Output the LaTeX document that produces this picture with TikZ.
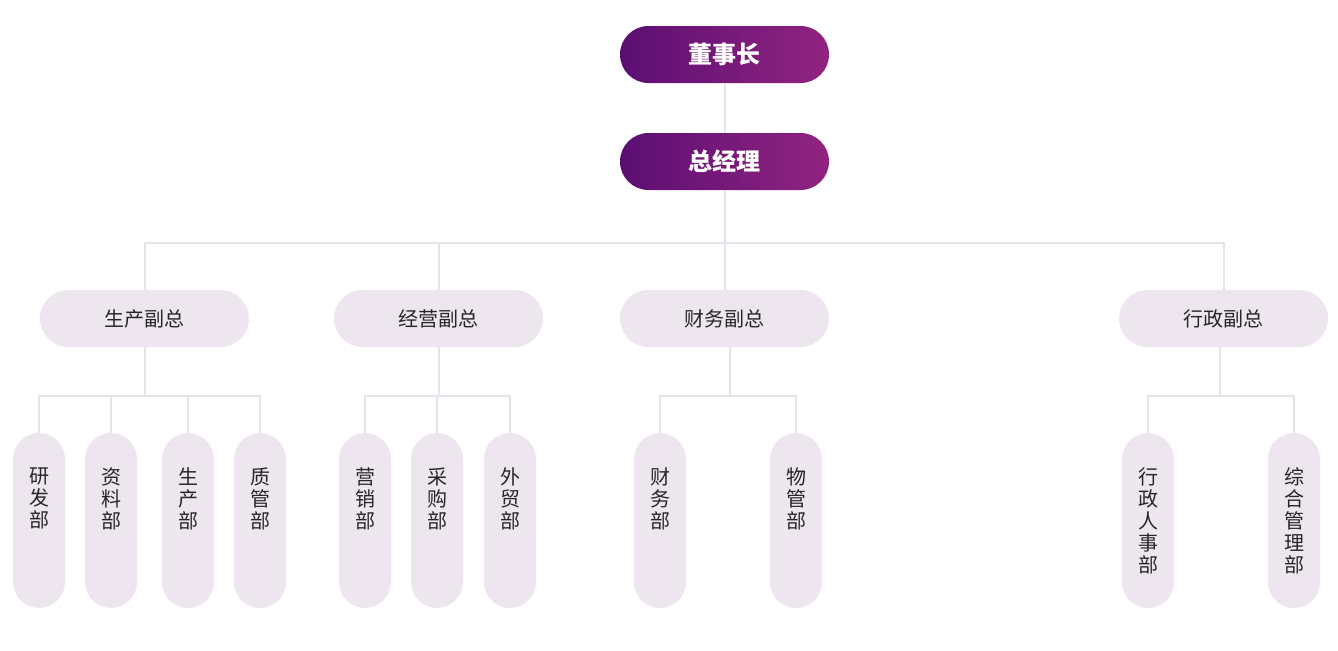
\documentclass[tikz,border=0pt]{standalone}
\usepackage{fontspec}
\newfontfamily\cjk{Noto Sans CJK SC}
\usetikzlibrary{positioning}

\definecolor{chiefL}{HTML}{5B0F73}
\definecolor{chiefR}{HTML}{912380}
\definecolor{pale}{HTML}{EDE6EF}
\definecolor{wire}{HTML}{E8E2EA}
\definecolor{ink}{HTML}{262626}

\tikzset{
    chief/.style={rectangle, draw=none, rounded corners=21.375pt,
        minimum width=156.75pt, minimum height=42.75pt,
        left color=chiefL, right color=chiefR, text=white,
        font=\cjk\bfseries\fontsize{18pt}{21pt}\selectfont},
    vice/.style={rectangle, draw=none, fill=pale, rounded corners=21.375pt,
        minimum width=156.75pt, minimum height=42.75pt, text=ink,
        font=\cjk\fontsize{15pt}{18pt}\selectfont},
    dept/.style={rectangle, draw=none, fill=pale, rounded corners=19.5pt,
        minimum width=39pt, minimum height=131.25pt},
    deptname/.style={anchor=north, inner sep=0pt, yshift=-26pt, align=center,
        text=ink, font=\cjk\fontsize{15pt}{16.5pt}\selectfont},
    wire/.style={draw=wire, line width=1.5pt},
}

\begin{document}
\begin{tikzpicture}[x=0.75pt, y=-0.75pt]
    \useasboundingbox (0,0) rectangle (1338,650);

    % top
    \node[chief] (chair) at (724.5,54.5) {董事长};
    \node[chief] (gm) at (724.5,161.5) {总经理};

    % vice presidents
    \node[vice] (vp1) at (144.5,318.5) {生产副总};
    \node[vice] (vp2) at (438.5,318.5) {经营副总};
    \node[vice] (vp3) at (724.5,318.5) {财务副总};
    \node[vice] (vp4) at (1223.5,318.5) {行政副总};

    % departments
    \node[dept, label={[deptname]north:研\\发\\部}] (d11) at (39,520.5) {};
    \node[dept, label={[deptname]north:资\\料\\部}] (d12) at (111,520.5) {};
    \node[dept, label={[deptname]north:生\\产\\部}] (d13) at (188,520.5) {};
    \node[dept, label={[deptname]north:质\\管\\部}] (d14) at (260,520.5) {};
    \node[dept, label={[deptname]north:营\\销\\部}] (d21) at (365,520.5) {};
    \node[dept, label={[deptname]north:采\\购\\部}] (d22) at (437,520.5) {};
    \node[dept, label={[deptname]north:外\\贸\\部}] (d23) at (510,520.5) {};
    \node[dept, label={[deptname]north:财\\务\\部}] (d31) at (660,520.5) {};
    \node[dept, label={[deptname]north:物\\管\\部}] (d32) at (796,520.5) {};
    \node[dept, label={[deptname]north:行\\政\\人\\事\\部}] (d41) at (1148,520.5) {};
    \node[dept, label={[deptname]north:综\\合\\管\\理\\部}] (d42) at (1294,520.5) {};

    \coordinate (bus) at (724.5,243);
    \coordinate (fork1) at (145,396);
    \coordinate (fork2) at (439,396);
    \coordinate (fork3) at (730,396);
    \coordinate (fork4) at (1220,396);

    % connectors
    \draw[wire] (chair) -- (gm);
    \draw[wire] (gm) -- (vp3);
    \draw[wire] (vp1) |- (bus) -| (vp4);
    \draw[wire] (vp2) -- (vp2 |- bus);

    \draw[wire] (vp1.south -| fork1) -- (fork1);
    \draw[wire] (d11) |- (fork1) -| (d14);
    \draw[wire] (d12) -- (d12 |- fork1);
    \draw[wire] (d13) -- (d13 |- fork1);

    \draw[wire] (vp2.south -| fork2) -- (fork2);
    \draw[wire] (d21) |- (fork2) -| (d23);
    \draw[wire] (d22) -- (d22 |- fork2);

    \draw[wire] (vp3.south -| fork3) -- (fork3);
    \draw[wire] (d31) |- (fork3) -| (d32);

    \draw[wire] (vp4.south -| fork4) -- (fork4);
    \draw[wire] (d41) |- (fork4) -| (d42);
\end{tikzpicture}
\end{document}
